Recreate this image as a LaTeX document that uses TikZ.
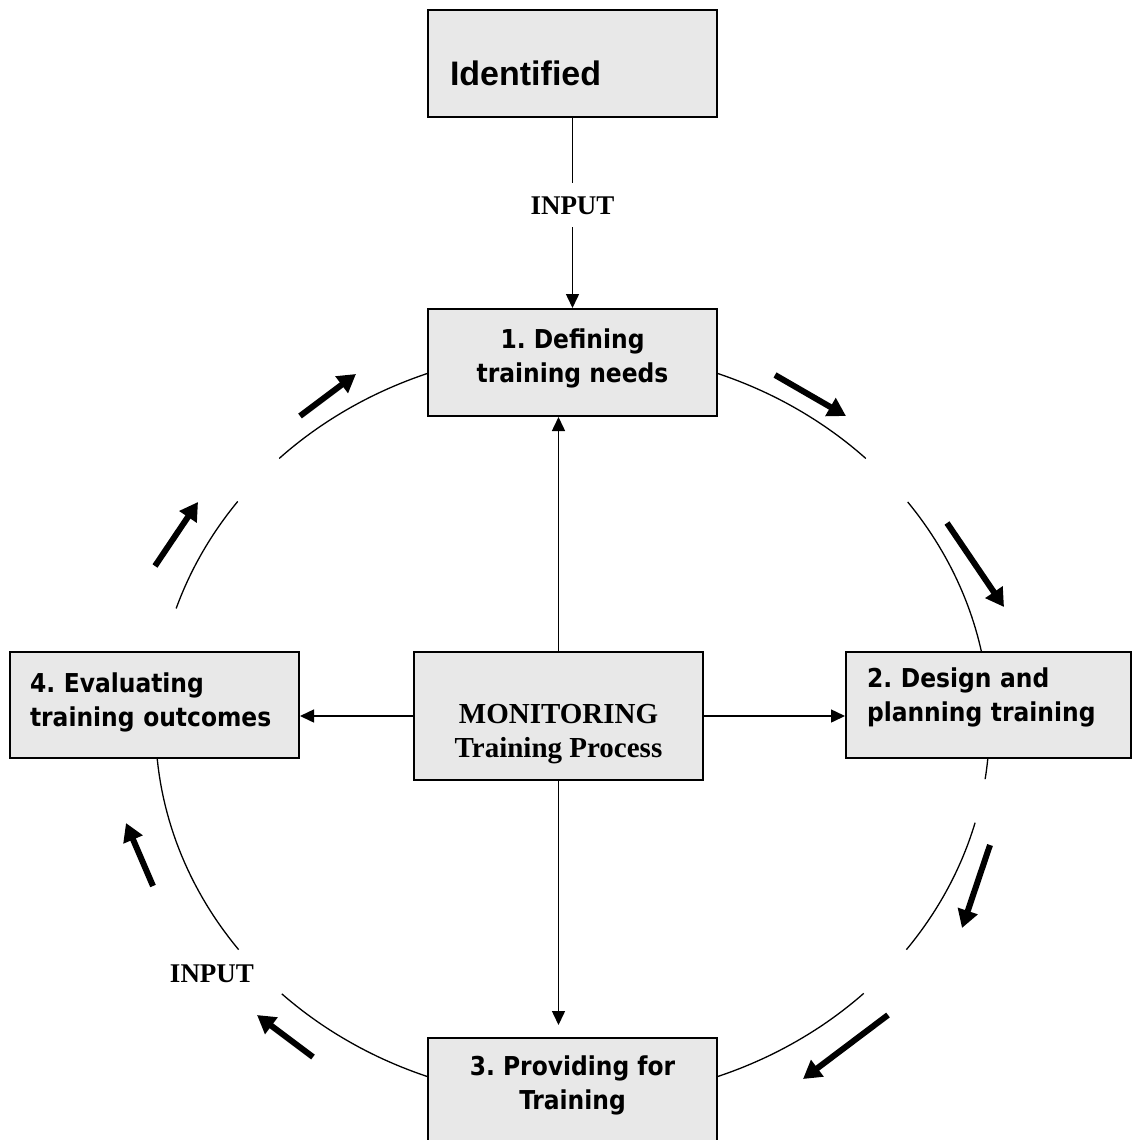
\documentclass[tikz,border=0pt]{standalone}
\usepackage{fontspec}
\usepackage{tikz}
\usetikzlibrary{arrows.meta}
\newfontfamily\stagefont{DejaVu Sans Condensed}
\newfontfamily\headfont{Liberation Sans}
\newfontfamily\labelfont{Liberation Serif}
\definecolor{boxgray}{HTML}{E8E8E8}

\begin{document}
\begin{tikzpicture}[x=1pt, y=-1pt,
    stage/.style={draw, fill=boxgray, line width=2pt, minimum width=289pt,
      font=\stagefont\bfseries\frenchspacing\fontsize{26}{34}\selectfont},
    link/.style={line width=1.5pt, -{Triangle[length=14pt, width=13pt]}},
    flow/.style={line width=6pt, -{Triangle[length=18pt, width=20pt]}},
    ring/.style={line width=1.3pt},
    inputlabel/.style={font=\labelfont\bfseries\fontsize{27}{30}\selectfont}]
    \useasboundingbox (0,0) rectangle (1133,1140);
    \clip (0,0) rectangle (1133,1140);

    \foreach \a/\b in {225.3/252, 198.1/216.6, 143.2/177, 108/134.2, 45.7/72, 15.1/36.8, 3/8.3, 323.5/352, 288/314.7}
        \draw[ring] plot[domain=\a:\b, samples=30] ({572.5+417*cos(\x)}, {725+375*sin(\x)});

    \node(source)   at(572.5, 63.5) [stage, minimum height=107pt, text width=245pt, inner xsep=22pt, align=left,
                                     font=\headfont\bfseries\fontsize{34}{40}\selectfont, text height=43pt, text depth=0pt] {Identified};
    \node(need)     at(572.5, 362.5) [stage, minimum height=107pt, align=center, text height=45pt, text depth=6pt] {1. Defining\\training needs};
    \node(design)   at(988.5, 705) [stage, minimum width=285pt, minimum height=106pt, text width=243pt, inner xsep=21pt, align=left,
                                    text height=19pt, text depth=55pt] {2. Design and\\planning training};
    \node(evaluate) at(154.5, 705) [stage, minimum height=106pt, text width=249pt, inner xsep=20pt, align=left,
                                    text height=19pt, text depth=45pt] {4. Evaluating\\training outcomes};
    \node(provide)  at(572.5, 1037) [stage, anchor=north, inner ysep=18pt, align=center, text depth=80pt] {3. Providing for\\Training};
    \node(monitor)  at(558.5, 716) [stage, minimum height=128pt, align=center, text height=88pt, text depth=6pt,
                                    font=\labelfont\bfseries\fontsize{29}{34}\selectfont] {MONITORING\\Training Process};
    \node(input2)   at(212, 974) [inputlabel] {INPUT};

    \draw[link] (source) -- node[pos=0.46, fill=white, inner xsep=2pt, inner ysep=13pt, inputlabel] {INPUT} (need);
    \draw[link] (monitor.north) -- (monitor.north |- need.south);
    \draw[link, shorten >=12pt] (monitor.south) -- (monitor.south |- provide.north);
    \draw[link] (monitor.west) -- (monitor.west -| evaluate.east);
    \draw[link] (monitor.east) -- (monitor.east -| design.west);

    \foreach \xa/\ya/\xb/\yb in {300/416/356/374, 775/375/846/416, 947/523/1004/607, 990/845/962/928,
                                 888/1015/803/1079, 313/1057/257/1015, 153/886/126/823, 155/566/198/502}
        \draw[flow] (\xa,\ya) -- (\xb,\yb);
\end{tikzpicture}
\end{document}
